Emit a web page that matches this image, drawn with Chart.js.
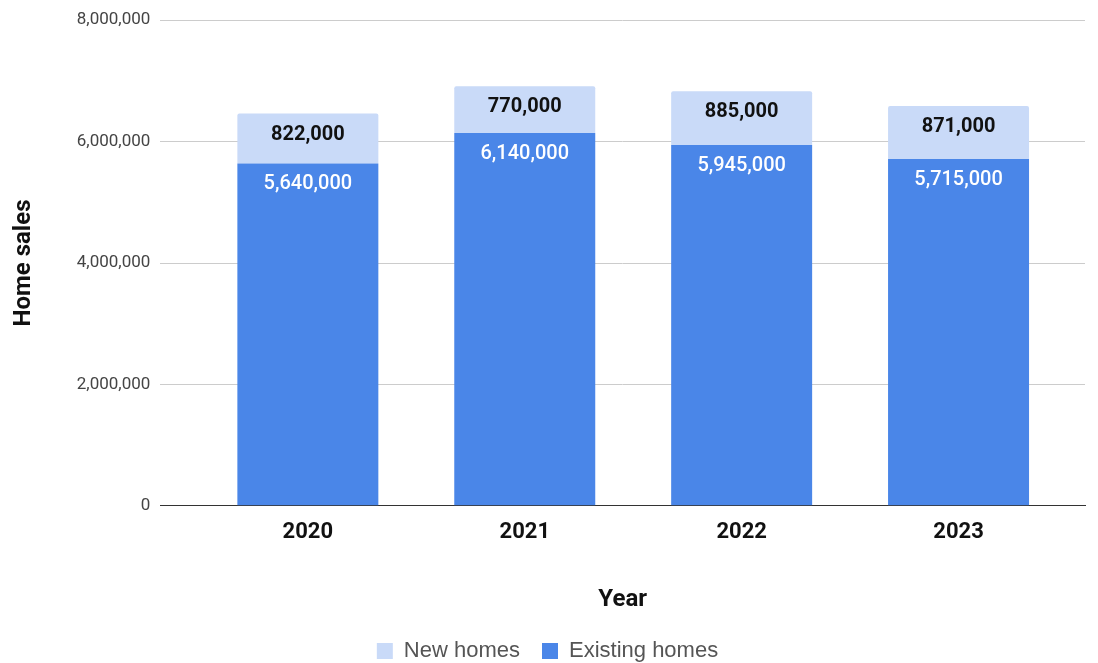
<!DOCTYPE html>
<html>
<head>
<meta charset="utf-8">
<script src="https://cdn.jsdelivr.net/npm/chart.js@4"></script>
<style>
  body { margin: 0; background: #fff; }
  #wrap { width: 1098px; height: 663px; }
</style>
</head>
<body>
<div id="wrap"><canvas id="salesChart"></canvas></div>
<script>
const years = ['2020', '2021', '2022', '2023'];
const existingHomes = [5640000, 6140000, 5945000, 5715000];
const newHomes = [822000, 770000, 885000, 871000];
const yTicks = [0, 2000000, 4000000, 6000000, 8000000];

const fmt = (v) => v.toLocaleString('en-US');
const points = (arr) => arr.map((v, i) => ({ x: i, y: v }));

// draws the value labels just inside the top of each bar segment
const barLabels = {
  id: 'barLabels',
  afterDatasetsDraw(chart) {
    const ctx = chart.ctx;
    ctx.save();
    ctx.textAlign = 'center';
    ctx.textBaseline = 'middle';
    chart.data.datasets.forEach((ds, i) => {
      const meta = chart.getDatasetMeta(i);
      meta.data.forEach((bar, j) => {
        ctx.font = ds.labelFont;
        ctx.fillStyle = ds.labelColor;
        ctx.fillText(fmt(ds.data[j].y), bar.x, bar.y + 21);
      });
    });
    ctx.restore();
  }
};

const salesChart = document.getElementById('salesChart').getContext('2d');

new Chart(salesChart, {
  type: 'bar',
  data: {
    datasets: [
      {
        label: 'Existing homes',
        backgroundColor: '#4a86e8',
        data: points(existingHomes),
        labelColor: '#ffffff',
        labelFont: '500 20px Roboto',
        barPercentage: 0.65,
        categoryPercentage: 1,
      },
      {
        label: 'New homes',
        backgroundColor: '#c9daf8',
        data: points(newHomes),
        labelColor: '#111111',
        labelFont: 'bold 20px Roboto',
        borderRadius: { topLeft: 2, topRight: 2 },
        borderSkipped: 'bottom',
        barPercentage: 0.65,
        categoryPercentage: 1,
      },
    ],
  },
  options: {
    responsive: true,
    maintainAspectRatio: false,
    animation: false,
    layout: { padding: { top: 8, right: 13, left: 10, bottom: -9 } },
    scales: {
      x: {
        type: 'linear',
        stacked: true,
        offset: false,
        min: -0.68,
        max: 3.583,
        afterBuildTicks: (axis) => { axis.ticks = years.map((y, i) => ({ value: i })); },
        grid: { display: false, offset: false },
        border: { color: '#333333' },
        ticks: {
          color: '#111111',
          font: { family: 'Roboto', size: 22, weight: 'bold' },
          padding: 5,
          maxRotation: 0,
          callback: (v) => years[v],
        },
        title: {
          display: true,
          text: 'Year',
          color: '#111111',
          font: { family: 'Roboto', size: 24, weight: 'bold' },
          padding: { top: 35, bottom: 4 },
        },
      },
      y: {
        stacked: true,
        min: 0,
        max: 8000000,
        afterBuildTicks: (axis) => { axis.ticks = yTicks.map((v) => ({ value: v })); },
        grid: { color: '#cccccc', drawTicks: false },
        border: { display: false },
        ticks: { color: '#444444', font: { family: 'Roboto', size: 17 }, padding: 10, callback: (v) => fmt(v) },
        title: {
          display: true,
          text: 'Home sales',
          color: '#111111',
          font: { family: 'Roboto', size: 24, weight: 'bold' },
          padding: { top: 0, bottom: 28 },
        },
      },
    },
    plugins: {
      legend: {
        position: 'bottom',
        reverse: true,
        labels: {
          color: '#555555',
          font: { family: 'Liberation Sans', size: 22 },
          boxWidth: 16,
          boxHeight: 16,
          padding: 22,
        },
      },
      tooltip: { enabled: false },
    },
  },
  plugins: [barLabels],
});
</script>
</body>
</html>
